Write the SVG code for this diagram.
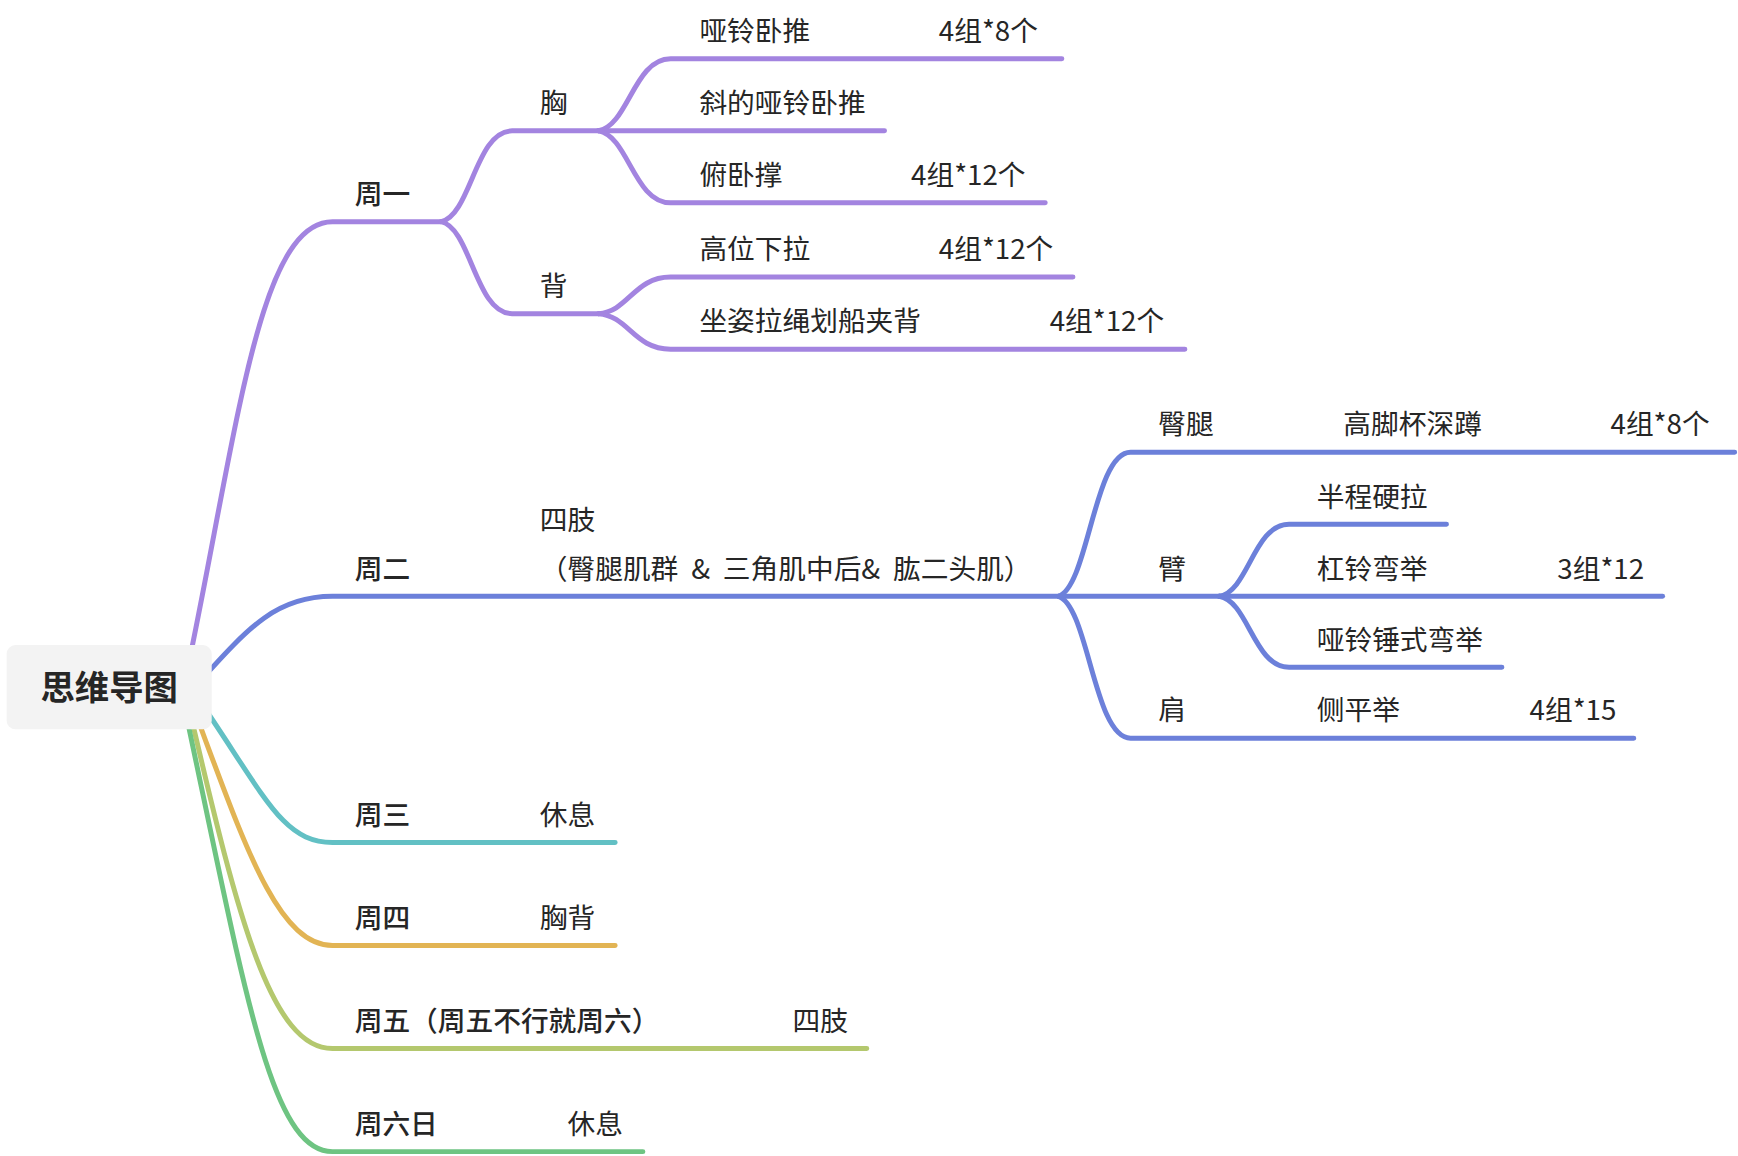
<svg xmlns="http://www.w3.org/2000/svg" width="1738" height="1156" viewBox="0 0 1738 1156">
<style>
.t{font-family:"Noto Sans CJK SC","Noto Sans",sans-serif;font-size:25px;fill:#262626}
.b{font-weight:500}
.r{font-weight:bold;font-size:31px}
.c{fill:none;stroke-width:4.5;stroke-linecap:round;stroke-linejoin:round}
.pu{stroke:#A384E0}.bl{stroke:#6C80DA}.te{stroke:#62C0C4}.or{stroke:#E2B454}.yg{stroke:#B4C86E}.gr{stroke:#6EC482}
</style>
<rect width="1738" height="1156" fill="#ffffff"/>
<g transform="scale(1.1084)">
<g id="connectors">
<path class="c pu" d="M172,590 C215,380 235,200 300,200 L398,200"/>
<path class="c pu" d="M398,200 C425,194 429,118 462,118 L540,118"/>
<path class="c pu" d="M398,200 C425,206 429,283 462,283 L540,283"/>
<path class="c pu" d="M540,118 C567,113 572,53 605,53 L958,53"/>
<path class="c pu" d="M540,118 L798,118"/>
<path class="c pu" d="M540,118 C567,123 572,183 605,183 L943,183"/>
<path class="c pu" d="M540,283 C567,281 572,250 605,250 L968,250"/>
<path class="c pu" d="M540,283 C567,285 572,315 605,315 L1069,315"/>
<path class="c bl" d="M180,615 C225,565 250,538 300,538 L955,538"/>
<path class="c bl" d="M955,538 C982,529 987,408 1020,408 L1565,408"/>
<path class="c bl" d="M955,538 L1100,538"/>
<path class="c bl" d="M955,538 C982,547 987,666 1020,666 L1474,666"/>
<path class="c bl" d="M1100,538 C1126.5,533.5 1131,473 1163,473 L1305,473"/>
<path class="c bl" d="M1100,538 L1500,538"/>
<path class="c bl" d="M1100,538 C1126.5,542.5 1131,602 1163,602 L1355,602"/>
<path class="c te" d="M180,632 C240,720 255,760 300,760 L555,760"/>
<path class="c or" d="M175,640 C220,760 250,853 300,853 L555,853"/>
<path class="c yg" d="M172,645 C215,830 245,946 300,946 L782,946"/>
<path class="c gr" d="M168,645 C222,900 245,1039 300,1039 L580,1039"/>
</g>
<g id="root">
<rect x="6" y="582" width="185" height="76" rx="8" fill="#F3F3F3"/>
<text class="t r" x="98.5" y="632" text-anchor="middle">思维导图</text>
</g>
<g id="mon"><text class="t b" x="320" y="184">周一</text></g>
<g id="chest"><text class="t" x="487" y="102">胸</text></g>
<g id="back"><text class="t" x="487" y="267">背</text></g>
<g id="c1"><text class="t" x="631" y="37">哑铃卧推</text><text class="t" x="847" y="37">4组*8个</text></g>
<g id="c2"><text class="t" x="631" y="102">斜的哑铃卧推</text></g>
<g id="c3"><text class="t" x="631" y="167">俯卧撑</text><text class="t" x="822" y="167">4组*12个</text></g>
<g id="b1"><text class="t" x="631" y="234">高位下拉</text><text class="t" x="847" y="234">4组*12个</text></g>
<g id="b2"><text class="t" x="631" y="299">坐姿拉绳划船夹背</text><text class="t" x="947" y="299">4组*12个</text></g>
<g id="tue"><text class="t b" x="320" y="522">周二</text></g>
<g id="limbs"><text class="t" x="487" y="478">四肢</text><text class="t" x="487" y="522" word-spacing="6">（臀腿肌群 &amp; 三角肌中后&amp; 肱二头肌）</text></g>
<g id="legs"><text class="t" x="1045" y="392">臀腿</text><text class="t" x="1212" y="392">高脚杯深蹲</text><text class="t" x="1453" y="392">4组*8个</text></g>
<g id="arm"><text class="t" x="1045" y="522">臂</text></g>
<g id="a1"><text class="t" x="1188" y="457">半程硬拉</text></g>
<g id="a2"><text class="t" x="1188" y="522">杠铃弯举</text><text class="t" x="1405" y="522">3组*12</text></g>
<g id="a3"><text class="t" x="1188" y="586">哑铃锤式弯举</text></g>
<g id="shoulder"><text class="t" x="1045" y="650">肩</text><text class="t" x="1188" y="650">侧平举</text><text class="t" x="1380" y="650">4组*15</text></g>
<g id="wed"><text class="t b" x="320" y="744">周三</text><text class="t" x="487" y="744">休息</text></g>
<g id="thu"><text class="t b" x="320" y="837">周四</text><text class="t" x="487" y="837">胸背</text></g>
<g id="fri"><text class="t b" x="320" y="930">周五（周五不行就周六）</text><text class="t" x="715" y="930">四肢</text></g>
<g id="weekend"><text class="t b" x="320" y="1023">周六日</text><text class="t" x="512" y="1023">休息</text></g>
</g>
</svg>
